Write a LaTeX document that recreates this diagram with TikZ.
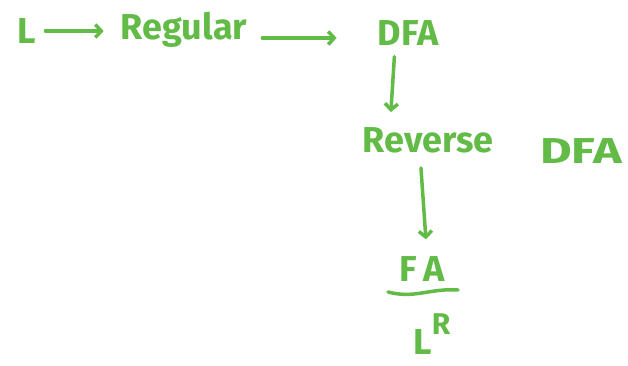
\documentclass[tikz,border=0pt]{standalone}
\usepackage{fontspec}
\setmainfont{Fira Sans}
\usetikzlibrary{arrows.meta}
\definecolor{pen}{RGB}{98,187,70}

\begin{document}
\begin{tikzpicture}[x=1pt,y=-1pt,>={Straight Barb[length=6pt,width=13pt]},
  every node/.style={text=pen,font=\fontsize{36}{40}\selectfont\bfseries,inner sep=1pt},
  stroke/.style={draw=pen,line width=3.5pt,line cap=round,line join=round}]
\useasboundingbox (0,0) rectangle (628,365);
\node (l) at (27,31) {L};
\node (reg) at (184,30) {Regular};
\node (dfa) at (408,33) {DFA};
\node (rev) at (428,140) {Reverse};
\node (dfb) at (581,151) {\scalebox{1.35}[1]{DFA}};
\node (fa) at (422,269) {F\,A};
\node (lr) at (432,334) {L\raisebox{0.55em}{\fontsize{30}{30}\selectfont R}};
% arrows
\draw[stroke,->,shorten <=8pt,shorten >=16pt] (l) -- (l -| reg.west);
\draw[stroke,->,shorten <=14pt,shorten >=40pt] ([yshift=-8pt]reg.east) -- ([yshift=-5pt]dfa.west);
\draw[stroke,->,shorten <=10pt,shorten >=14pt] ([xshift=-13pt]dfa.south) -- ([xshift=-38pt]rev.north);
\draw[stroke,->,shorten <=14pt,shorten >=16pt] ([xshift=-8pt]rev.south) -- ([xshift=5pt]fa.north);
% wavy underline
\draw[stroke] (388,292) .. controls (415,299) and (430,288) .. (458,290);
\end{tikzpicture}
\end{document}
